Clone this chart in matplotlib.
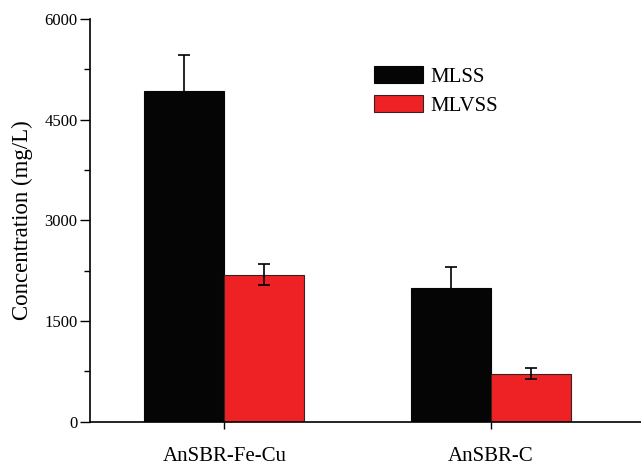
import matplotlib
matplotlib.use("Agg")

import numpy as np
import matplotlib.pyplot as plt
from matplotlib.ticker import MultipleLocator

# data
groups = ["AnSBR-Fe-Cu", "AnSBR-C"]
mlss = [4930, 1990]
mlss_err = [540, 310]
mlvss = [2190, 715]
mlvss_err = [160, 85]

plt.rcParams["font.family"] = ["Liberation Serif", "DejaVu Serif"]

fig = plt.figure(figsize=(6.41, 4.69), dpi=100)
ax = fig.add_axes([0.1404, 0.1009, 0.8596, 0.8586])

x = np.arange(len(groups))
w = 0.3

err_kw = dict(ecolor="black", elinewidth=1.2, capsize=4.5, capthick=1.2)
# black bars: error bars drawn behind the bar, so only the upper half shows
ax.errorbar(x - w / 2, mlss, yerr=mlss_err, fmt="none", zorder=1, **err_kw)
ax.bar(x - w / 2, mlss, w, color="#050505", edgecolor="#050505",
       linewidth=0.8, label="MLSS", zorder=2)
ax.bar(x + w / 2, mlvss, w, yerr=mlvss_err, color="#EE2224",
       edgecolor="#3a2020", linewidth=0.8, label="MLVSS", error_kw=err_kw,
       zorder=2)

ax.set_xlim(-0.5036, 1.5624)
ax.set_ylim(0, 6000)
ax.set_xticks(x)
ax.set_xticklabels(groups, fontsize=15)
ax.set_yticks([0, 1500, 3000, 4500, 6000])
ax.yaxis.set_minor_locator(MultipleLocator(750))
ax.tick_params(axis="y", which="major", labelsize=12, length=7, width=1, pad=2)
ax.tick_params(axis="y", which="minor", length=4, width=1)
ax.tick_params(axis="x", length=5, width=1, pad=13)
ax.set_ylabel("Concentration (mg/L)", fontsize=16.5, labelpad=8)

for s in ["top", "right"]:
    ax.spines[s].set_visible(False)
for s in ["left", "bottom"]:
    ax.spines[s].set_linewidth(1.2)

ax.legend(loc="upper left", bbox_to_anchor=(374 / 641, 1 - 66 / 469),
          bbox_transform=fig.transFigure, frameon=False, fontsize=15,
          handlelength=2.35, handleheight=0.88, handletextpad=0.35,
          labelspacing=0.4, borderpad=0, borderaxespad=0)

fig.savefig("out.png", dpi=100)
